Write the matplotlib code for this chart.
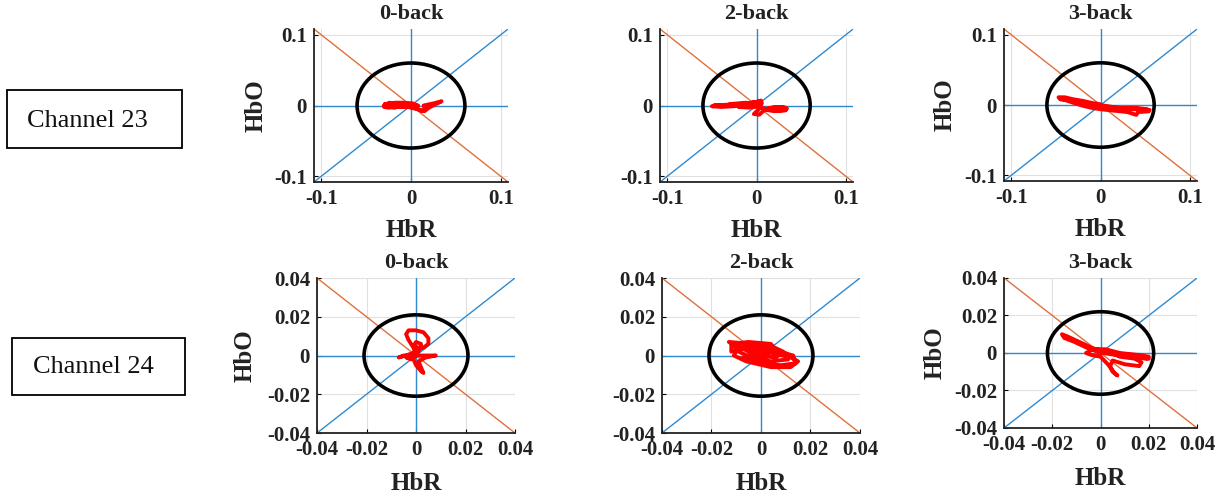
"""HbR vs HbO phase plots for channels 23 and 24 across n-back tasks."""
import matplotlib
matplotlib.use('Agg')
import matplotlib.pyplot as plt
import matplotlib.patches as mpatches

plt.rcParams['font.family'] = ['Liberation Serif', 'DejaVu Serif']
plt.rcParams['axes.unicode_minus'] = False

TASKS = ['0-back', '2-back', '3-back']
CHANNELS = ['Channel 23', 'Channel 24']

# axis extents and tick labels per channel row
ch23_lim = 0.108
ch23_ticks = [-0.1, 0, 0.1]
ch23_ticklabels = ['-0.1', '0', '0.1']
ch24_lim = 0.04
ch24_ticks = [-0.04, -0.02, 0, 0.02, 0.04]
ch24_ticklabels = ['-0.04', '-0.02', '0', '0.02', '0.04']

# reference circle radius per task
ch23_radius = [0.06, 0.06, 0.06]
ch24_radius = [0.021, 0.021, 0.022]

# channel 23 trajectories (HbR on x, HbO on y)
ch23_0back_hbr = [0.000, -0.010, -0.020, -0.029, -0.030, -0.025, -0.015, -0.005, 0.003, 0.010,
                  0.015, 0.020, 0.034, 0.025, 0.014, 0.016, 0.012, 0.006, 0.000, -0.010,
                  -0.022, -0.029, -0.028, -0.018, -0.008, 0.002, 0.008, 0.005, -0.005, -0.020,
                  -0.027, -0.015, -0.024, -0.030, -0.018, -0.006, 0.000]
ch23_0back_hbo = [0.002, 0.003, 0.003, 0.002, -0.002, -0.003, -0.002, -0.001, -0.004, -0.006,
                  -0.008, -0.003, 0.006, 0.003, 0.000, -0.006, -0.008, -0.004, 0.000, 0.001,
                  0.000, 0.002, -0.001, 0.004, 0.004, 0.003, 0.000, -0.003, -0.002, -0.001,
                  0.001, 0.001, 0.004, 0.000, -0.003, 0.002, 0.002]

ch23_2back_hbr = [0.000, -0.020, -0.040, -0.050, -0.040, -0.025, -0.010, 0.000, 0.005, 0.002,
                  -0.003, 0.003, 0.010, 0.020, 0.030, 0.034, 0.032, 0.020, 0.010, 0.015,
                  0.028, 0.033, 0.025, 0.012, 0.004, 0.006, 0.002, -0.002, -0.015, -0.035,
                  -0.048, -0.030, -0.010, 0.000, -0.020, -0.008, 0.004, -0.012, -0.030,
                  -0.018, -0.004, 0.003]
ch23_2back_hbo = [0.000, 0.001, 0.000, -0.001, -0.002, -0.001, 0.002, 0.005, 0.007, -0.006,
                  -0.012, -0.013, -0.005, -0.002, -0.002, -0.004, -0.007, -0.008, -0.006, -0.004,
                  -0.003, -0.006, -0.007, -0.005, -0.003, 0.004, 0.006, 0.004, 0.002, 0.001,
                  0.000, 0.001, 0.003, 0.000, -0.002, -0.003, -0.001, 0.004, 0.002,
                  -0.001, 0.005, 0.001]

ch23_3back_hbr = [0.000, -0.010, -0.020, -0.030, -0.040, -0.047, -0.045, -0.032, -0.022, -0.015,
                  -0.005, 0.005, 0.015, 0.030, 0.045, 0.055, 0.054, 0.042, 0.040, 0.030,
                  0.015, 0.000, -0.010, -0.020, -0.030, -0.042, -0.030, -0.015, 0.000, 0.020,
                  0.040, 0.052, 0.035, 0.015, 0.000]
ch23_3back_hbo = [0.001, 0.003, 0.006, 0.008, 0.011, 0.011, 0.008, 0.007, 0.003, 0.001,
                  -0.002, -0.004, -0.005, -0.005, -0.006, -0.007, -0.009, -0.010, -0.014, -0.010,
                  -0.008, -0.006, -0.004, -0.001, 0.003, 0.008, 0.006, 0.002, -0.002, -0.004,
                  -0.004, -0.006, -0.006, -0.003, 0.000]

# channel 24 trajectories
ch24_0back_hbr = [0.000, -0.001, -0.003, -0.004, -0.003, 0.000, 0.003, 0.005, 0.005, 0.003,
                  0.001, -0.001, 0.000, 0.002, 0.002, 0.001, -0.002, -0.004, -0.007, -0.005,
                  0.000, 0.004, 0.008, 0.004, 0.001, 0.002, 0.003, 0.002, 0.000, -0.001,
                  0.000, 0.001, -0.002, -0.004, -0.001, 0.000]
ch24_0back_hbo = [0.000, 0.004, 0.008, 0.011, 0.013, 0.013, 0.012, 0.009, 0.006, 0.004,
                  0.004, 0.005, 0.007, 0.006, 0.004, 0.002, 0.001, 0.000, -0.001, 0.000,
                  0.000, 0.000, 0.000, -0.001, -0.003, -0.006, -0.009, -0.008, -0.005, -0.002,
                  0.001, 0.003, -0.002, -0.001, -0.001, 0.000]

ch24_2back_hbr = [-0.012, -0.005, 0.004, 0.006, -0.004, -0.012, -0.012, -0.008, 0.002, 0.012,
                  0.015, 0.012, 0.004, -0.006, -0.011, -0.009, 0.000, 0.010, 0.011, 0.004,
                  -0.004, -0.009, -0.006, 0.004, 0.009, 0.006, -0.002, -0.008, -0.013, -0.004,
                  0.005, 0.013, 0.014, 0.008, 0.000, -0.007, -0.003, 0.003, 0.000]
ch24_2back_hbo = [0.006, 0.007, 0.006, 0.003, 0.003, 0.005, 0.002, 0.004, 0.002, -0.001,
                  -0.003, -0.006, -0.006, -0.003, 0.000, 0.004, 0.004, 0.001, -0.002, -0.003,
                  -0.001, 0.002, 0.006, 0.005, 0.002, -0.001, 0.000, 0.004, 0.007, 0.006,
                  0.003, 0.000, -0.004, -0.005, -0.004, -0.001, 0.001, 0.000, 0.002]

ch24_3back_hbr = [0.000, -0.004, -0.009, -0.014, -0.016, -0.015, -0.011, -0.006, -0.002, 0.000,
                  0.004, 0.010, 0.016, 0.020, 0.019, 0.012, 0.006, 0.001, -0.002, 0.003,
                  0.008, 0.014, 0.017, 0.016, 0.010, 0.005, 0.004, 0.005, 0.007, 0.006,
                  0.003, 0.000, -0.004, -0.006, -0.003, 0.002, 0.008, 0.015, 0.020, 0.012,
                  0.004, 0.000]
ch24_3back_hbo = [0.001, 0.003, 0.006, 0.009, 0.010, 0.008, 0.006, 0.003, 0.001, 0.000,
                  0.000, -0.001, -0.001, -0.002, -0.003, -0.002, -0.001, 0.000, 0.002, 0.001,
                  -0.002, -0.003, -0.005, -0.007, -0.006, -0.004, -0.007, -0.010, -0.012, -0.011,
                  -0.006, -0.002, -0.001, 0.000, 0.002, 0.002, 0.000, -0.001, -0.003, -0.002,
                  0.000, 0.001]

ROWS = [
    dict(lim=ch23_lim, ticks=ch23_ticks, labels=ch23_ticklabels, radius=ch23_radius,
         traj=[(ch23_0back_hbr, ch23_0back_hbo), (ch23_2back_hbr, ch23_2back_hbo),
               (ch23_3back_hbr, ch23_3back_hbo)]),
    dict(lim=ch24_lim, ticks=ch24_ticks, labels=ch24_ticklabels, radius=ch24_radius,
         traj=[(ch24_0back_hbr, ch24_0back_hbo), (ch24_2back_hbr, ch24_2back_hbo),
               (ch24_3back_hbr, ch24_3back_hbo)]),
]

# axes rectangles in figure fractions
AX_POS = [
    [[0.2563, 0.6345, 0.1584, 0.3072], [0.5388, 0.6345, 0.1576, 0.3072], [0.8196, 0.6365, 0.1576, 0.3052]],
    [[0.2588, 0.1305, 0.1616, 0.3112], [0.5404, 0.1305, 0.1616, 0.3112], [0.8196, 0.1406, 0.1576, 0.3012]],
]
YLABEL_X = [[-0.30, None, -0.306], [-0.364, None, -0.357]]
XLABEL_Y = [[-0.314, -0.314, -0.322], [-0.326, -0.326, -0.337]]

BLUE = '#2f8ad0'
ORANGE = '#e0703c'
INK = '#222222'

fig = plt.figure(figsize=(12.25, 4.98), dpi=100)

for r, row in enumerate(ROWS):
    for c, task in enumerate(TASKS):
        ax = fig.add_axes(AX_POS[r][c])
        lim = row['lim']
        ax.set_xlim(-lim, lim)
        ax.set_ylim(-lim, lim)

        ax.grid(True, color='#e0e0e0', linewidth=0.8, zorder=0)
        ax.set_axisbelow(True)

        ax.axhline(0, color=BLUE, linewidth=1.0, zorder=2)
        ax.axvline(0, color=BLUE, linewidth=1.0, zorder=2)
        ax.axline((0, 0), slope=1, color=BLUE, linewidth=1.0, zorder=2)
        ax.axline((0, 0), slope=-1, color=ORANGE, linewidth=1.0, zorder=2)

        ax.add_patch(mpatches.Circle((0, 0), row['radius'][c], fill=False,
                                     edgecolor='black', linewidth=2.6, zorder=3))

        hbr, hbo = row['traj'][c]
        ax.plot(hbr, hbo, color='red', linewidth=2.8, solid_joinstyle='round',
                solid_capstyle='round', zorder=4)

        ax.set_xticks(row['ticks'])
        ax.set_xticklabels(row['labels'])
        ax.set_yticks(row['ticks'])
        ax.set_yticklabels(row['labels'])
        ax.tick_params(direction='in', length=3, width=0.8, labelsize=15, pad=5)
        for lbl in ax.get_xticklabels() + ax.get_yticklabels():
            lbl.set_fontweight('bold')
            lbl.set_color(INK)

        for side in ('top', 'right'):
            ax.spines[side].set_visible(False)
        for side in ('left', 'bottom'):
            ax.spines[side].set_color(INK)
            ax.spines[side].set_linewidth(1.3)

        ax.set_title(task, fontsize=16, fontweight='bold', pad=7, color=INK)

        ax.set_xlabel('HbR', fontsize=18, fontweight='bold', color=INK)
        ax.xaxis.set_label_coords(0.5, XLABEL_Y[r][c])
        ax.xaxis.label.set_verticalalignment('center')
        if YLABEL_X[r][c] is not None:
            ax.set_ylabel('HbO', fontsize=18, fontweight='bold', color=INK)
            ax.yaxis.set_label_coords(YLABEL_X[r][c], 0.5)
            ax.yaxis.label.set_verticalalignment('center')
            ax.yaxis.label.set_horizontalalignment('center')

# channel name boxes on the left
BOXES = [(7, 90, 175, 58, 87, 127), (12, 338, 173, 57, 93, 373)]
W, H = 1225, 498
for name, (bx, by, bw, bh, tx, ty) in zip(CHANNELS, BOXES):
    fig.patches.append(mpatches.Rectangle((bx / W, 1 - (by + bh) / H), bw / W, bh / H,
                                          transform=fig.transFigure, fill=False,
                                          edgecolor='black', linewidth=1.3))
    fig.text(tx / W, 1 - ty / H, name, fontsize=19, ha='center', va='baseline',
             color='#111111')

fig.savefig('out.png', dpi=100)
